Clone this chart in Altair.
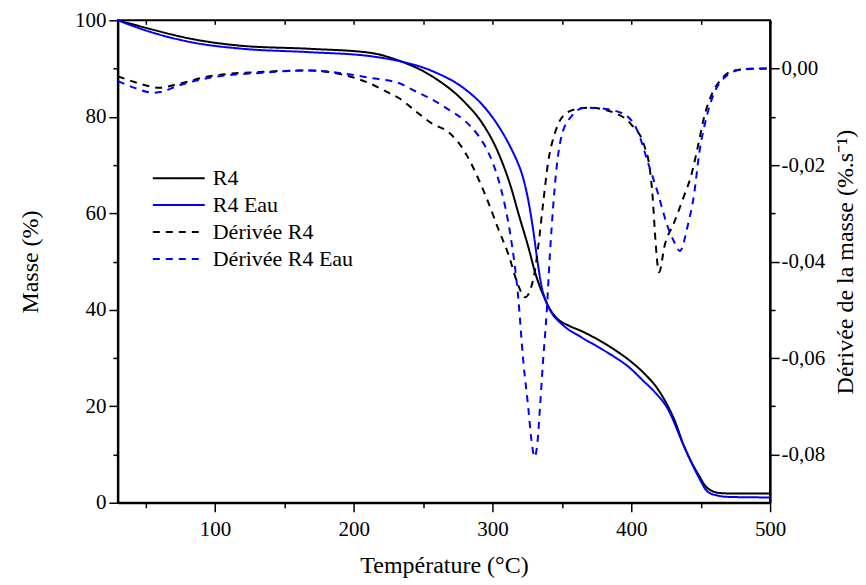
import altair as alt
import pandas as pd

# ---- data ----
series_names = ["R4", "R4 Eau", "Dérivée R4", "Dérivée R4 Eau"]
series_colors = ["#000000", "#0000ff", "#000000", "#0000ff"]
series_dashes = [[1, 0], [1, 0], [7, 6], [7, 6]]

T_R4 = [30, 48, 84, 120, 168, 211, 232, 256.4, 280.3, 292.3, 304.2, 313.8, 318.6,
        325.8, 330.8, 338, 342.5, 347.3, 355, 364, 376, 388, 400, 410, 419, 426, 431,
        438, 448, 455, 464.3, 475, 500]
M_R4 = [100, 98.6, 96.1, 94.7, 94.1, 93.3, 91.7, 88.4, 82.9, 78.8, 72.5, 64.9, 60.0,
        53.0, 47.6, 42.1, 39.6, 38.0, 36.7, 35.6, 33.8, 31.7, 29.2, 26.6, 23.6, 20.2, 17.2,
        11.7, 6.0, 3.0, 2.0, 1.9, 1.9]

T_R4E = [30, 48, 84, 120, 168, 211, 232, 256.4, 280.3, 292.3, 304.2, 313.8, 318, 321,
         325.8, 329.4, 332.5, 335.3, 338.5, 342.5, 350, 364, 376, 388, 397.5, 408.5, 416.7,
         426, 438, 448, 455, 462, 471, 500]
M_R4E = [100, 98.1, 95.4, 94.1, 93.4, 92.6, 91.6, 89.5, 85.7, 82.6, 78.1, 73.2, 70.6, 68.3,
         62.6, 56.3, 49.8, 44.9, 41.7, 39.4, 37.0, 34.3, 32.3, 30.2, 28.3, 25.3, 23.0,
         19.6, 11.7, 5.6, 2.3, 1.5, 1.2, 1.1]

T_DR4 = [30, 42, 53, 60, 72, 96, 132, 168, 196.5, 211, 225, 232.4, 244.4, 256.4, 268.3,
         280.3, 290, 297, 304.2, 311.4, 318.6, 323.4, 329.4, 333, 336.5, 340, 345, 352,
         361.7, 369, 388, 400, 409.5, 413, 415.5, 417, 420, 424, 431, 438, 443, 448, 452.6,
         457.4, 464.5, 474, 485, 500]
D_DR4 = [-0.0016, -0.0028, -0.0037, -0.0040, -0.0033, -0.0016, -0.0007, -0.0004, -0.0016,
         -0.0030, -0.0050, -0.0061, -0.0088, -0.0114, -0.0132, -0.0174, -0.0230, -0.0278,
         -0.0333, -0.0385, -0.0450, -0.0474, -0.0436, -0.0367, -0.0278, -0.0195, -0.0133,
         -0.0095, -0.0083, -0.0081, -0.0092, -0.0116, -0.0161, -0.0202, -0.0271, -0.0340,
         -0.0422, -0.0367, -0.0318, -0.0264, -0.0223, -0.0161, -0.0099, -0.0057, -0.0023,
         -0.0004, -0.0001, 0.0]

T_DR4E = [30, 42, 55, 62, 72, 96, 132, 168, 196.5, 211, 232.4, 244.4, 256.4, 268.3, 280.3,
          290, 297, 304.2, 309, 312.6, 318.6, 322, 325.8, 328, 330.3, 332.5, 334.1, 336.5,
          339, 341.4, 343.7, 346, 349.7, 356.8, 366.4, 376, 393, 405, 412, 419, 426, 431,
          435, 440.6, 445.4, 449, 453.8, 459.8, 467, 479, 490, 500]
D_DR4E = [-0.0026, -0.0040, -0.0050, -0.0048, -0.0037, -0.0019, -0.0009, -0.0004, -0.0012,
          -0.0019, -0.0030, -0.0047, -0.0064, -0.0085, -0.0109, -0.0140, -0.0174, -0.0230,
          -0.0285, -0.0340, -0.0478, -0.0602, -0.0705, -0.0770, -0.0805, -0.0770, -0.0705,
          -0.0602, -0.0505, -0.0381, -0.0285, -0.0209, -0.0140, -0.0099, -0.0081, -0.0082,
          -0.0092, -0.0133, -0.0195, -0.0257, -0.0326, -0.0360, -0.0378, -0.0326, -0.0257,
          -0.0174, -0.0105, -0.0050, -0.0019, -0.0002, 0.0, 0.0]

x_ticks = [50, 100, 150, 200, 250, 300, 350, 400, 450, 500]
mass_ticks = [0, 10, 20, 30, 40, 50, 60, 70, 80, 90, 100]
deriv_ticks = [-0.08, -0.07, -0.06, -0.05, -0.04, -0.03, -0.02, -0.01, 0.0]

mass = pd.concat([
    pd.DataFrame({"T": T_R4, "v": M_R4, "s": series_names[0]}),
    pd.DataFrame({"T": T_R4E, "v": M_R4E, "s": series_names[1]}),
], ignore_index=True)
deriv = pd.concat([
    pd.DataFrame({"T": T_DR4, "v": D_DR4, "s": series_names[2]}),
    pd.DataFrame({"T": T_DR4E, "v": D_DR4E, "s": series_names[3]}),
], ignore_index=True)

FONT = "Liberation Serif"

legend = alt.Legend(
    title=None, orient="none", legendX=34, legendY=144.5, padding=0,
    symbolType="stroke", symbolSize=2704, symbolStrokeWidth=2, clipHeight=27,
    rowPadding=0, labelOffset=7, labelFont=FONT, labelFontSize=22,
    labelColor="black", labelLimit=400,
)
color = alt.Color("s:N", scale=alt.Scale(domain=series_names, range=series_colors),
                  sort=series_names, legend=legend)
dash = alt.StrokeDash("s:N", scale=alt.Scale(domain=series_names, range=series_dashes),
                      sort=series_names, legend=legend)

common_axis = dict(grid=False, domainColor="black", domainWidth=2, tickColor="black",
                   tickWidth=1.5, labelColor="black", labelFont=FONT, labelFontSize=21,
                   titleFont=FONT, titleFontSize=24, titleFontWeight="normal",
                   titleColor="black", labelFlush=False, labelOverlap=False)

xscale = alt.Scale(domain=[30, 500], nice=False, zero=False)

left = alt.Chart(mass).mark_line(strokeWidth=2, interpolate="monotone").encode(
    x=alt.X("T:Q", scale=xscale, axis=alt.Axis(
        orient="bottom", values=x_ticks, title="Température (°C)",
        labelExpr="datum.value % 100 === 0 ? datum.label : ''",
        tickSize={"condition": {"test": "datum.value % 100 === 0", "value": 9}, "value": 5},
        labelPadding=7, titlePadding=14, **common_axis)),
    y=alt.Y("v:Q", scale=alt.Scale(domain=[0, 100], nice=False), axis=alt.Axis(
        orient="left", values=mass_ticks, title="Masse (%)",
        labelExpr="datum.value % 20 === 0 ? datum.label : ''",
        tickSize={"condition": {"test": "datum.value % 20 === 0", "value": 9}, "value": 5},
        labelPadding=3, titlePadding=32, **common_axis)),
    color=color,
    strokeDash=dash,
)

right = alt.Chart(deriv).mark_line(strokeWidth=2, interpolate="monotone").encode(
    x=alt.X("T:Q", scale=xscale, axis=alt.Axis(
        orient="top", values=x_ticks, labels=False, domain=False, ticks=True,
        tickSize=4, tickColor="black", tickWidth=1.5, offset=-4, title=None, grid=False)),
    y=alt.Y("v:Q", scale=alt.Scale(domain=[-0.09, 0.01], nice=False, zero=False), axis=alt.Axis(
        orient="right", values=deriv_ticks, title="Dérivée de la masse (%.s⁻¹)",
        titleAngle=270, titleBaseline="top",
        labelExpr="abs(round(datum.value*100)) % 2 === 0 ? (datum.value < -0.0001 ? '-' : '') + replace(format(abs(datum.value), '.2f'), '.', ',') : ''",
        tickSize={"condition": {"test": "abs(round(datum.value*100)) % 2 === 0", "value": 9}, "value": 5},
        labelPadding=2, titlePadding=9, **common_axis)),
    color=color,
    strokeDash=dash,
)

chart = alt.layer(left, right).resolve_scale(y="independent").resolve_axis(
    x="independent"
).properties(
    width=653, height=483, background="white",
    padding={"left": 10, "top": 1, "right": 0, "bottom": 5},
).configure_view(stroke="black", strokeWidth=2)

chart.save("out.html", embed_options={"renderer": "svg", "actions": False})
